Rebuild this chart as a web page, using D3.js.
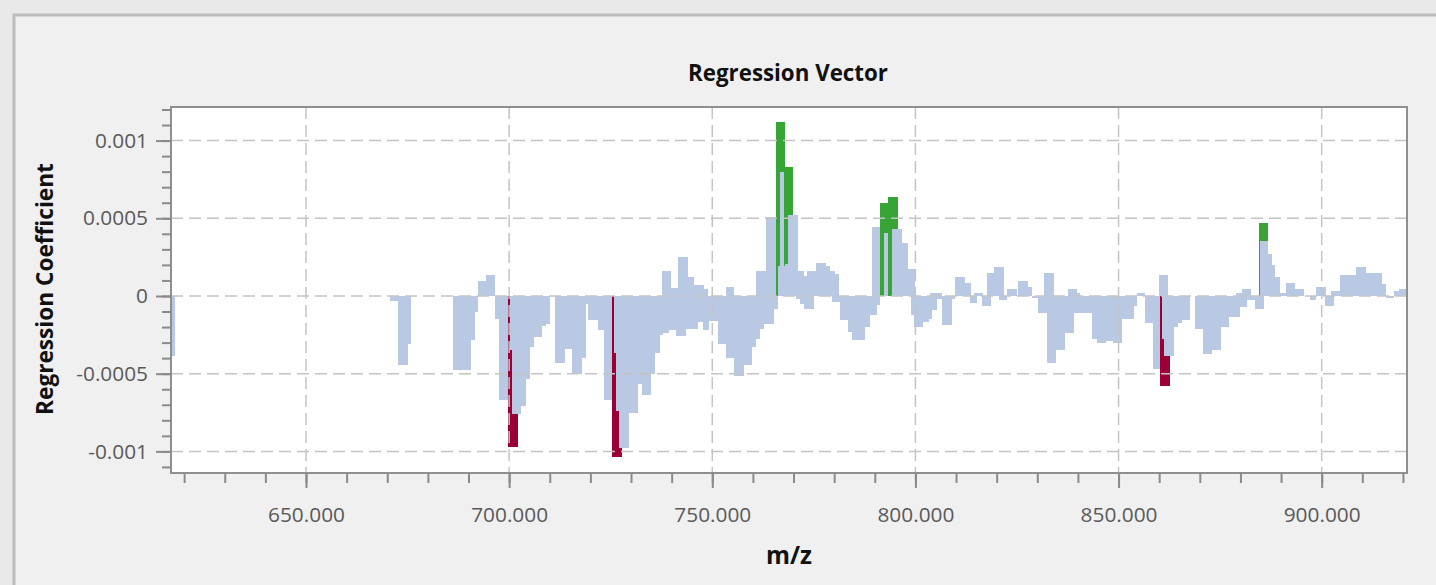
<!DOCTYPE html>
<html><head><meta charset="utf-8">
<script src="https://cdn.jsdelivr.net/npm/d3@7"></script>
<style>
html,body{margin:0;padding:0;background:#e9e9e9;overflow:hidden}
text{font-family:"Open Sans","Noto Sans",sans-serif}
</style></head><body>
<svg id="c" width="1436" height="585"></svg>
<script>
// [m/z start, m/z end, regression coefficient]
const blueBins = [
[616.77,617.8,-3.89e-4],[670.6,672.6,-0.35e-4],[672.6,675.0,-4.43e-4],[675.0,675.8,-3.11e-4],
[686.3,690.6,-4.79e-4],[690.6,691.7,-2.86e-4],[691.7,692.3,-1.03e-4],[692.3,694.3,0.95e-4],
[694.3,696.6,1.37e-4],[696.6,697.4,-1.46e-4],[697.4,699.7,-6.72e-4],[700.1,700.7,-3.5e-4],
[700.7,702.9,-7.6e-4],[702.9,704.15,-7.09e-4],[704.15,705.05,-5.33e-4],[705.05,706.05,-3.29e-4],
[706.05,708.1,-2.64e-4],[708.1,709.15,-1.95e-4],[709.15,710.0,-1.83e-4],[711.4,713.85,-4.30e-4],
[713.85,715.5,-3.39e-4],[715.5,717.95,-5.05e-4],[717.95,718.9,-4.0e-4],[718.9,719.4,-0.5e-4],
[719.4,721.8,-1.57e-4],[721.8,723.3,-2.21e-4],[723.3,725.3,-6.72e-4],[725.7,726.3,-3.7e-4],
[726.3,727.1,-7.4e-4],[727.1,729.6,-9.8e-4],[729.6,731.65,-7.54e-4],[731.65,732.7,-5.69e-4],
[732.7,735.0,-6.36e-4],[735.0,736.0,-5.0e-4],[736.0,737.05,-3.65e-4],[737.05,737.9,-2.53e-4],
[737.9,739.3,-2.4e-4],[739.3,741.1,-2.17e-4],[741.1,743.6,-2.6e-4],[743.6,746.4,-2.1e-4],
[746.4,747.6,-1.7e-4],[747.6,749.1,-2.2e-4],[749.1,751.4,-1.6e-4],[751.4,753.5,-3.1e-4],
[753.5,755.3,-4.0e-4],[755.3,757.7,-5.18e-4],[757.7,759.8,-4.43e-4],[759.8,760.8,-3.29e-4],
[760.8,761.7,-2.75e-4],[761.7,762.7,-2.1e-4],[762.7,765.1,-1.83e-4],[765.1,766.1,-0.82e-4],
[737.6,739.9,1.61e-4],[739.9,741.5,0.5e-4],[741.5,744.0,2.51e-4],[744.0,745.4,1.2e-4],
[745.4,747.9,0.73e-4],[747.9,749.0,0.43e-4],[753.5,755.3,0.58e-4],[760.8,763.3,1.61e-4],
[763.3,765.7,5.09e-4],[766.1,768.0,1.93e-4],[766.6,767.6,7.95e-4],[768.0,768.6,2.08e-4],
[768.6,771.0,5.24e-4],[771.0,772.5,1.61e-4],[772.5,773.3,1.29e-4],[773.3,775.6,1.61e-4],
[775.6,778.1,2.13e-4],[778.1,778.9,1.93e-4],[778.9,780.3,1.61e-4],[780.3,781.3,1.44e-4],
[770.5,771.5,-0.2e-4],[771.5,772.5,-0.54e-4],[772.5,775.0,-0.82e-4],[779.5,781.5,-0.39e-4],
[781.5,783.35,-1.57e-4],[783.35,784.4,-2.32e-4],[784.4,787.7,-2.86e-4],[787.7,788.9,-2.0e-4],
[788.9,790.55,-1.2e-4],[790.55,791.2,-0.6e-4],[789.3,791.2,4.45e-4],[792.2,793.2,4.06e-4],
[794.2,796.7,4.34e-4],[796.7,798.2,3.42e-4],[798.2,799.8,1.72e-4],[798.8,799.75,-1.25e-4],
[799.75,801.9,-2.0e-4],[801.9,803.3,-1.68e-4],[803.3,804.1,-1.46e-4],[804.1,805.2,-0.92e-4],
[805.2,806.6,-0.22e-4],[806.6,808.9,-1.85e-4],[808.9,809.85,-0.2e-4],[803.7,806.6,0.19e-4],
[809.85,812.3,1.22e-4],[812.3,813.8,0.84e-4],[813.5,815.2,-0.45e-4],[814.4,816.7,0.19e-4],
[816.4,818.6,-0.67e-4],[817.5,819.4,1.48e-4],[819.4,821.7,1.87e-4],[820.5,822.6,-0.28e-4],
[822.6,824.9,0.43e-4],[825.3,827.7,0.97e-4],[827.7,828.7,0.58e-4],[828.7,830.2,-0.1e-4],
[830.2,832.3,-1.07e-4],[831.6,834.05,1.48e-4],[832.3,834.6,-4.3e-4],[834.6,836.9,-3.5e-4],
[836.9,839.0,-2.36e-4],[839.0,843.5,-1.07e-4],[837.6,839.8,0.43e-4],[839.8,840.6,0.19e-4],
[843.5,844.6,-2.75e-4],[844.6,847.0,-3.0e-4],[847.0,848.7,-2.9e-4],[848.7,850.9,-3.0e-4],
[850.9,853.8,-1.46e-4],[853.8,854.6,-0.67e-4],[854.6,856.6,0.19e-4],[856.5,858.4,-1.72e-4],
[858.4,860.2,-4.68e-4],[859.9,862.2,1.37e-4],[860.7,861.3,-2.75e-4],[861.3,863.6,-3.89e-4],
[863.6,864.7,-2.0e-4],[864.7,865.5,-1.72e-4],[865.5,867.7,-1.57e-4],[868.7,870.7,-2.1e-4],
[870.7,873.0,-3.76e-4],[873.0,875.1,-3.5e-4],[875.1,877.1,-2.0e-4],[877.1,879.8,-1.35e-4],
[879.8,881.7,-0.71e-4],[881.7,883.5,-0.28e-4],[883.5,885.75,-0.82e-4],[878.8,880.4,0.19e-4],
[880.4,882.6,0.43e-4],[884.9,886.8,3.54e-4],[886.8,887.8,2.73e-4],[887.8,888.6,1.98e-4],
[888.6,889.7,1.22e-4],[889.7,891.3,0.19e-4],[891.3,893.5,0.84e-4],[893.5,895.6,0.47e-4],
[897.2,898.7,-0.28e-4],[898.7,901.1,0.58e-4],[900.7,903.0,-0.67e-4],[902.2,904.6,0.32e-4],
[904.6,908.5,1.37e-4],[908.5,911.0,1.87e-4],[911.0,914.9,1.48e-4],[914.9,915.9,0.8e-4],
[915.9,917.8,-0.13e-4],[917.8,919.0,0.3e-4],[919.0,921.0,0.47e-4]
];
const redBins = [[699.6,702.1,-9.73e-4],[725.3,727.8,-10.33e-4],[860.2,862.6,-5.82e-4]];
const greenBins = [[765.7,768.0,11.17e-4],[768.0,769.9,8.31e-4],[791.2,793.3,5.99e-4],[793.3,795.6,6.38e-4],[884.5,886.8,4.70e-4]];
const xMajor = [650,700,750,800,850,900];
const xTickLabels = ["650.000","700.000","750.000","800.000","850.000","900.000"];
const yMajor = [-0.001,-0.0005,0,0.0005,0.001];
const yTickLabels = ["-0.001","-0.0005","0","0.0005","0.001"];
const xDomain = [616.77, 921.0];
const yDomain = [-11.39e-4, 12.16e-4];
const titleText = "Regression Vector", xTitle = "m/z", yTitle = "Regression Coefficient";

const svg = d3.select("#c");
const L = 171, T = 107, R = 1407, B = 473;
const x = d3.scaleLinear().domain(xDomain).range([L, R]);
const y = d3.scaleLinear().domain(yDomain).range([B, T]);

// window frame
svg.append("rect").attr("x",0).attr("y",0).attr("width",1436).attr("height",585).attr("fill","#e9e9e9");
svg.append("rect").attr("x",14).attr("y",15).attr("width",1450).attr("height",600)
  .attr("fill","#f0f0f0").attr("stroke","#bdbdbd").attr("stroke-width",3);

// plot background
svg.append("rect").attr("x",L).attr("y",T).attr("width",R-L).attr("height",B-T).attr("fill","#fff");

const plot = svg.append("g");
function bars(data, color){
  plot.append("g").attr("shape-rendering","crispEdges").selectAll("rect").data(data).join("rect")
    .attr("x", d => Math.round(x(d[0])))
    .attr("width", d => Math.max(1, Math.round(x(d[1])) - Math.round(x(d[0]))))
    .attr("y", d => Math.round(y(Math.max(0, d[2]))))
    .attr("height", d => Math.abs(Math.round(y(d[2])) - Math.round(y(0))))
    .attr("fill", color);
}
bars(redBins, "#9a0036");
bars(greenBins, "#36a535");
bars(blueBins, "#b9c9e4");

// grid
const grid = svg.append("g").attr("stroke","#c4c4c4").attr("stroke-width",1.5).attr("stroke-dasharray","12,6");
grid.selectAll(".gx").data(xMajor).join("line").attr("x1",d=>x(d)).attr("x2",d=>x(d)).attr("y1",T).attr("y2",B);
grid.selectAll(".gy").data(yMajor).join("line").attr("y1",d=>y(d)).attr("y2",d=>y(d)).attr("x1",L).attr("x2",R);

// border
svg.append("rect").attr("x",L).attr("y",T).attr("width",R-L).attr("height",B-T)
  .attr("fill","none").attr("stroke","#8f8f8f").attr("stroke-width",2);

// axes
const tickCol = "#8a8a8a", labCol = "#595959";
const yMinor = d3.range(-11, 13).map(k => k * 1e-4).filter(v => v >= yDomain[0] && v <= yDomain[1]);
const xMinor = d3.range(620, 921, 10);
function style(g){ g.select(".domain").remove(); g.selectAll("line").attr("stroke",tickCol).attr("stroke-width",2); }
svg.append("g").attr("transform",`translate(${L},0)`).call(d3.axisLeft(y).tickValues(yMinor).tickSize(9).tickFormat("")).call(style);
svg.append("g").attr("transform",`translate(0,${B})`).call(d3.axisBottom(x).tickValues(xMinor).tickSize(10).tickFormat("")).call(style);
const ya = svg.append("g").attr("transform",`translate(${L},0)`)
  .call(d3.axisLeft(y).tickValues(yMajor).tickSize(15).tickPadding(8).tickFormat((d,i)=>yTickLabels[i])).call(style);
const xa = svg.append("g").attr("transform",`translate(0,${B})`)
  .call(d3.axisBottom(x).tickValues(xMajor).tickSize(15).tickPadding(19).tickFormat((d,i)=>xTickLabels[i])).call(style);
svg.selectAll(".tick text").attr("fill",labCol).attr("font-size",20).attr("font-family","'Open Sans',sans-serif");

function fit(sel, target){
  const w = sel.node().getComputedTextLength();
  const fs = parseFloat(sel.attr("font-size"));
  return fs * target / w;
}
// scale tick labels so "650.000" is ~77px wide
const fsTick = fit(xa.select(".tick text"), 77);
svg.selectAll(".tick text").attr("font-size", fsTick);

// titles
const t = svg.append("text").attr("x",788).attr("y",81).attr("text-anchor","middle")
  .attr("font-weight","bold").attr("font-size",20).attr("fill","#111").text(titleText);
t.attr("font-size", fit(t, 200));
const xt = svg.append("text").attr("x",789).attr("y",564).attr("text-anchor","middle")
  .attr("font-weight","bold").attr("font-size",20).attr("fill","#111").text(xTitle);
xt.attr("font-size", fit(xt, 46));
const yt = svg.append("text").attr("transform","translate(53,289) rotate(-90)").attr("text-anchor","middle")
  .attr("font-weight","bold").attr("font-size",20).attr("fill","#111").text(yTitle);
yt.attr("font-size", fit(yt, 252));
</script></body></html>
